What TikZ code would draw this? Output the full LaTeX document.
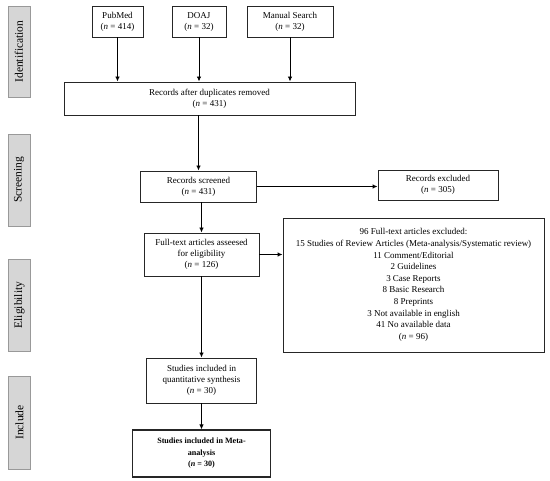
\documentclass[tikz,border=0pt]{standalone}
\usepackage{fontspec}
\setmainfont{Liberation Serif}
\usetikzlibrary{arrows.meta}
\begin{document}
\begin{tikzpicture}[x=1pt,y=-1pt,
  box/.style={draw=black!85,line width=0.9pt,align=center,inner sep=0pt,
    font=\fontsize{9}{11}\selectfont},
  side/.style={draw=black!40,fill=black!16,line width=0.8pt,inner sep=0pt,
    font=\fontsize{11.5}{13}\selectfont},
  arr/.style={line width=0.9pt,-{Latex[length=5pt,width=4.5pt]}}]
\useasboundingbox (0,0) rectangle (550,481);
% side labels
\node[side,minimum width=22pt,minimum height=91pt] (sid) at (19,51.5) {};
\node[rotate=90,font=\fontsize{11.5}{13}\selectfont] at (sid.center) {Identification};
\node[side,minimum width=22pt,minimum height=92pt] (ssc) at (19,180) {};
\node[rotate=90,font=\fontsize{11.5}{13}\selectfont] at (ssc.center) {Screening};
\node[side,minimum width=22pt,minimum height=92pt] (sel) at (19.5,305) {};
\node[rotate=90,font=\fontsize{11.5}{13}\selectfont] at (sel.center) {Eligibility};
\node[side,minimum width=22pt,minimum height=93pt] (sin) at (19.5,422.5) {};
\node[rotate=90,font=\fontsize{11.5}{13}\selectfont] at (sin.center) {Include};
% boxes
\node[box,minimum width=51pt,minimum height=31pt] (pub) at (117.5,21.5) {PubMed\\(\textit{n} = 414)};
\node[box,minimum width=54pt,minimum height=31pt] (doaj) at (199,21.5) {DOAJ\\(\textit{n} = 32)};
\node[box,minimum width=86pt,minimum height=31pt] (man) at (290,21.5) {Manual Search\\(\textit{n} = 32)};
\node[box,minimum width=291pt,minimum height=33pt] (after) at (209.5,98.5) {Records after duplicates removed\\(\textit{n} = 431)};
\node[box,minimum width=116pt,minimum height=31pt] (scr) at (198.5,186.5) {Records screened\\(\textit{n} = 431)};
\node[box,minimum width=120pt,minimum height=30pt] (exc) at (438,185) {Records excluded\\(\textit{n} = 305)};
\node[box,minimum width=115pt,minimum height=43pt] (full) at (201.5,254.5) {Full-text articles asseesed\\for eligibility\\(\textit{n} = 126)};
\node[box,minimum width=261pt,minimum height=134pt,font=\fontsize{9}{11.6}\selectfont] (big) at (413.5,285)
 {96 Full-text articles excluded:\\15 Studies of Review Articles (Meta-analysis/Systematic review)\\11 Comment/Editorial\\2 Guidelines\\3 Case Reports\\8 Basic Research\\8 Preprints\\3 Not available in english\\41 No available data\\(\textit{n} = 96)};
\node[box,minimum width=110pt,minimum height=45pt] (quant) at (201.5,380.5) {Studies included in\\quantitative synthesis\\(\textit{n} = 30)};
\node[box,line width=1.2pt,minimum width=138pt,minimum height=47pt,font=\fontsize{8.1}{11.5}\selectfont\bfseries] (meta) at (201.5,453.5) {Studies included in Meta-\\analysis\\(\textit{n} = 30)};
% connectors
\draw[arr] (pub.south) -- (pub.south |- after.north);
\draw[arr] (doaj.south) -- (doaj.south |- after.north);
\draw[arr] (man.south) -- (man.south |- after.north);
\draw[arr] (scr.north |- after.south) -- (scr.north);
\draw[arr] (scr.east) -- (scr.east -| exc.west);
\draw[arr] (full.north |- scr.south) -- (full.north);
\draw[arr] (full.east) -- (full.east -| big.west);
\draw[arr] (full.south) -- (quant.north);
\draw[arr] (quant.south) -- (meta.north);
\end{tikzpicture}
\end{document}
